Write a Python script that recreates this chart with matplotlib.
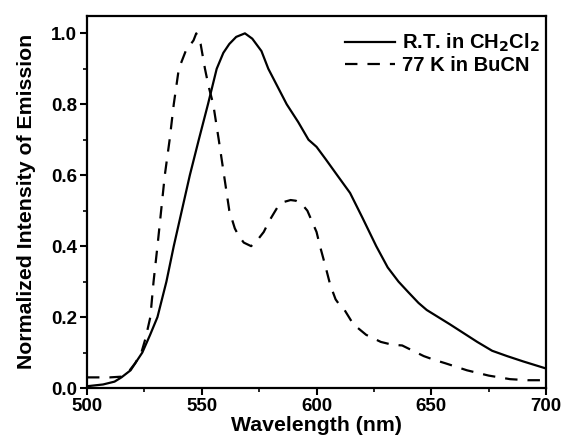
import numpy as np
import matplotlib.pyplot as plt

plt.rcParams['font.family'] = ['Liberation Sans', 'DejaVu Sans']
plt.rcParams['font.weight'] = 'bold'
plt.rcParams['mathtext.default'] = 'bf'

# room temperature emission in CH2Cl2
rt_wl = [500, 507, 512, 515, 519, 524.1, 527.5, 530.7, 534.6, 537.8, 541.3, 544.8,
         548.7, 552.7, 556.5, 559.4, 562, 565, 568.8, 572, 576, 579, 583, 587,
         592, 596.5, 600, 604, 609, 614.6, 620, 626, 631, 635.7, 640, 644.4, 648,
         653, 658, 664, 670, 676.5, 683, 690, 695, 700]
rt_int = [0.005, 0.01, 0.018, 0.03, 0.05, 0.1, 0.15, 0.2, 0.3, 0.4, 0.5, 0.6,
          0.7, 0.8, 0.9, 0.945, 0.97, 0.99, 1.0, 0.985, 0.95, 0.9, 0.85, 0.8,
          0.75, 0.7, 0.68, 0.645, 0.6, 0.55, 0.48, 0.4, 0.34, 0.3, 0.27, 0.24,
          0.22, 0.2, 0.18, 0.155, 0.13, 0.105, 0.09, 0.075, 0.065, 0.055]

# 77 K emission in BuCN
lt_wl = [500, 505, 510, 515, 518, 521, 523.7, 525.5, 527.6, 529, 530.7, 532.3,
         533.9, 536, 537.8, 540, 543, 546.4, 547.6, 549.5, 551.4, 553, 555, 557.4,
         559.7, 562, 564.4, 566, 568.3, 571.5, 574.6, 577, 579.3, 583, 586,
         588.7, 591, 593.4, 596, 598, 600, 601.5, 603.6, 606, 608.3, 610.5,
         612.2, 616, 621.6, 628, 633, 637.3, 642, 646.7, 651, 656, 665.5, 675,
         684.3, 692, 700]
lt_int = [0.03, 0.03, 0.03, 0.032, 0.045, 0.07, 0.1, 0.14, 0.2, 0.3, 0.4, 0.5,
          0.6, 0.7, 0.8, 0.9, 0.95, 0.98, 1.0, 0.97, 0.9, 0.85, 0.8, 0.7,
          0.6, 0.5, 0.45, 0.43, 0.41, 0.4, 0.42, 0.44, 0.47, 0.51, 0.525,
          0.53, 0.528, 0.52, 0.5, 0.47, 0.44, 0.4, 0.35, 0.29, 0.25, 0.23,
          0.22, 0.18, 0.15, 0.13, 0.122, 0.12, 0.105, 0.09, 0.08, 0.07, 0.05, 0.035,
          0.025, 0.022, 0.022]

fig = plt.figure(figsize=(5.63, 4.46), dpi=100)
ax = fig.add_axes([0.1545, 0.130, 0.8155, 0.835])

ax.plot(rt_wl, rt_int, color='black', lw=1.6, label=r'R.T. in CH$_2$Cl$_2$')
ax.plot(lt_wl, lt_int, color='black', lw=1.6, dashes=(5.6, 4.5), label='77 K in BuCN')

ax.set_xlim(500, 700)
ax.set_ylim(0, 1.05)
ax.set_xticks([500, 550, 600, 650, 700])
ax.set_xticks(np.arange(525, 700, 50), minor=True)
ax.set_yticks([0.0, 0.2, 0.4, 0.6, 0.8, 1.0])
ax.set_yticks([0.1, 0.3, 0.5, 0.7, 0.9], minor=True)
ax.yaxis.set_major_formatter(plt.FormatStrFormatter('%.1f'))

ax.tick_params(which='major', direction='out', length=5, width=1.5, labelsize=13.5, pad=2)
ax.tick_params(which='minor', direction='out', length=3, width=1.2)
for s in ax.spines.values():
    s.set_linewidth(1.6)

ax.set_xlabel('Wavelength (nm)', fontsize=15.3, fontweight='bold', labelpad=1)
ax.set_ylabel('Normalized Intensity of Emission', fontsize=15.3, fontweight='bold', labelpad=11)

ax.legend(loc='upper right', bbox_to_anchor=(1.0, 0.973), frameon=False, fontsize=14.5,
          handlelength=2.5, handletextpad=0.35, borderaxespad=0, borderpad=0.3,
          labelspacing=0.08)

fig.savefig('out.png', dpi=100)
